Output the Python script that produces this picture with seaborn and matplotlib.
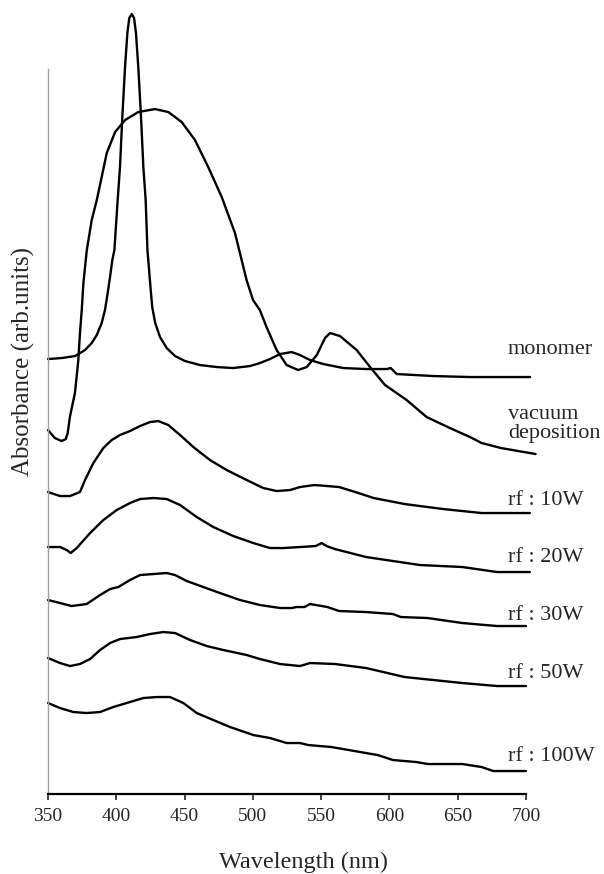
import matplotlib
matplotlib.use("Agg")
import matplotlib.pyplot as plt
import seaborn as sns
import pandas as pd

# UV-Vis absorbance spectra (offset for clarity), wavelength in nm
monomer_wl = [350, 360, 369.8, 377.1, 382, 385.7, 389.3, 391.7, 393.7, 395.4, 397.1, 398.6, 401,
              402.7, 404.4, 406.4, 408.1, 409.5, 411.3, 413, 414.4, 416.1, 418.1, 419.8, 421.5,
              422.8, 424, 425.2, 426.3, 428.5, 432, 436.9, 443, 450.3, 461.3, 473.5, 485.7,
              497.9, 505.2, 512.5, 519.9, 528.4, 534.5, 541.8, 551.6, 566.2, 583.3, 598, 600.9,
              605.3, 632.1, 659, 703]
monomer_abs = [4.35, 4.36, 4.38, 4.44, 4.51, 4.59, 4.71, 4.84, 5.01, 5.17, 5.34, 5.44, 5.94,
               6.27, 6.77, 7.27, 7.61, 7.76, 7.80, 7.76, 7.61, 7.27, 6.77, 6.27, 5.94,
               5.44, 5.24, 5.04, 4.87, 4.71, 4.57, 4.46, 4.38, 4.33, 4.29, 4.27, 4.26,
               4.28, 4.31, 4.35, 4.40, 4.42, 4.39, 4.34, 4.30, 4.26, 4.25, 4.25, 4.26,
               4.20, 4.18, 4.17, 4.17]

vacuum_wl = [350, 355, 359.9, 363, 364.4, 366, 369.7, 372.2, 373.4, 374.7, 375.9, 378.4, 382,
             385.7, 389.3, 393, 399.1, 406.4, 416.1, 428.3, 438.1, 447.9, 457.6, 467.3, 477.2,
             486.9, 495.4, 500.1, 505.1, 510, 517.4, 524.7, 533.2, 539.4, 546.8, 552.8, 556.5,
             563.8, 576, 585.8, 596.8, 612.6, 627.2, 644.3, 659, 667.5, 681.7, 707]
vacuum_abs = [3.64, 3.56, 3.53, 3.55, 3.61, 3.77, 4.01, 4.34, 4.61, 4.84, 5.11, 5.44, 5.74,
              5.94, 6.17, 6.41, 6.62, 6.74, 6.82, 6.85, 6.82, 6.72, 6.54, 6.27, 5.97,
              5.61, 5.14, 4.94, 4.84, 4.67, 4.44, 4.29, 4.24, 4.27, 4.39, 4.56, 4.61,
              4.58, 4.44, 4.27, 4.09, 3.94, 3.77, 3.66, 3.57, 3.51, 3.46, 3.40]

rf10_wl = [350, 358.8, 366.1, 373.4, 377.1, 383.2, 390.5, 396.6, 402.7, 410, 417.4, 424.7, 430.8,
           438.1, 446.7, 456.4, 468.6, 480.8, 495.5, 507.6, 517.4, 527.2, 534.5, 545, 554.6,
           563.1, 575, 588.5, 611.1, 639.3, 667.5, 702.8]
rf10_abs = [3.02, 2.98, 2.98, 3.02, 3.14, 3.31, 3.46, 3.54, 3.59, 3.63, 3.68, 3.72, 3.73,
            3.69, 3.59, 3.47, 3.34, 3.24, 3.14, 3.06, 3.03, 3.04, 3.07, 3.09, 3.08,
            3.07, 3.02, 2.96, 2.90, 2.85, 2.81, 2.81]

rf20_wl = [350, 358.8, 363.7, 366.6, 371, 380.8, 390.5, 400.3, 410, 417.4, 427.1, 436.9, 446.7,
           458.9, 471, 485.7, 500.3, 512.5, 522.3, 534.5, 546, 550.4, 554, 560, 582.9, 622.4,
           653.4, 678.8, 702.8]
rf20_abs = [2.47, 2.47, 2.44, 2.41, 2.46, 2.61, 2.74, 2.84, 2.91, 2.95, 2.96, 2.95, 2.89,
            2.77, 2.67, 2.58, 2.51, 2.46, 2.46, 2.47, 2.48, 2.51, 2.48, 2.45, 2.37, 2.29,
            2.27, 2.22, 2.22]

rf30_wl = [350, 358.8, 367.3, 378.3, 388.1, 395.4, 401.5, 410, 417.4, 427.1, 436.9, 443, 451.6,
           463.7, 475.9, 490.6, 505.2, 519.9, 528.4, 532.1, 537.7, 541.9, 554.6, 563.1, 582.9,
           602.6, 608.3, 628, 653.4, 678.8, 700]
rf30_abs = [1.94, 1.91, 1.88, 1.90, 1.99, 2.05, 2.07, 2.14, 2.19, 2.20, 2.21, 2.19, 2.13,
            2.07, 2.01, 1.94, 1.89, 1.86, 1.86, 1.87, 1.87, 1.90, 1.87, 1.83, 1.82,
            1.80, 1.77, 1.76, 1.71, 1.68, 1.68]

rf50_wl = [350, 358.8, 366.1, 373.4, 380.8, 388.1, 395.4, 402.7, 414.9, 424.7, 434.4, 443, 454,
           466.2, 478.4, 495.5, 505.2, 519.9, 534.5, 541.9, 560.3, 582.9, 611.1, 653.4, 678.8, 700]
rf50_abs = [1.36, 1.31, 1.28, 1.30, 1.35, 1.44, 1.51, 1.55, 1.57, 1.60, 1.62, 1.61, 1.54,
            1.48, 1.44, 1.39, 1.35, 1.30, 1.28, 1.31, 1.30, 1.26, 1.17, 1.11, 1.08, 1.08]

rf100_wl = [350, 358.8, 368.5, 378.3, 388.1, 397.8, 410, 419.8, 429.6, 439.3, 449.1, 458.9, 471,
            483.3, 500.3, 512.5, 524.8, 534.5, 540.5, 557.5, 574.4, 591.3, 602.6, 619.6, 628,
            653.4, 667.5, 676, 700]
rf100_abs = [0.91, 0.86, 0.82, 0.81, 0.82, 0.87, 0.92, 0.96, 0.97, 0.97, 0.91, 0.81, 0.74,
             0.67, 0.59, 0.56, 0.51, 0.51, 0.49, 0.47, 0.43, 0.39, 0.34, 0.32, 0.30,
             0.30, 0.27, 0.23, 0.23]

series_labels = ["monomer", "vacuum\ndeposition", "rf : 10W", "rf : 20W", "rf : 30W", "rf : 50W", "rf : 100W"]
label_levels = [4.45, 3.70, 2.94, 2.37, 1.79, 1.21, 0.38]
x_ticks = [350, 400, 450, 500, 550, 600, 650, 700]

series = [(monomer_wl, monomer_abs), (vacuum_wl, vacuum_abs), (rf10_wl, rf10_abs),
          (rf20_wl, rf20_abs), (rf30_wl, rf30_abs), (rf50_wl, rf50_abs), (rf100_wl, rf100_abs)]

sns.set_style("ticks")
plt.rcParams["font.family"] = ["Liberation Serif", "DejaVu Serif"]

fig = plt.figure(figsize=(6.04, 8.74), dpi=100)
ax = fig.add_axes([0.0795, 0.0915, 0.7914, 0.8295])

for wl, ab in series:
    df = pd.DataFrame({"wl": wl, "abs": ab})
    sns.lineplot(data=df, x="wl", y="abs", ax=ax, color="black", lw=1.7,
                 estimator=None, sort=False, clip_on=False,
                 solid_joinstyle="round", solid_capstyle="round")

for text, level in zip(series_labels, label_levels):
    ax.text(686.8, level, text, ha="left", va="center", fontsize=16,
            linespacing=1.0, clip_on=False)

ax.set_xlim(350, 700)
ax.set_ylim(0, 7.25)
ax.set_xticks(x_ticks)
ax.set_yticks([])
ax.tick_params(axis="x", direction="out", length=4, width=1.2, pad=6, labelsize=14)

for side in ("top", "right"):
    ax.spines[side].set_visible(False)
ax.spines["left"].set_color("#a0a0a0")
ax.spines["left"].set_linewidth(1.0)
ax.spines["bottom"].set_color("black")
ax.spines["bottom"].set_linewidth(1.6)

ax.set_xlabel("Wavelength (nm)", fontsize=17.5)
ax.set_ylabel("Absorbance (arb.units)", fontsize=18)
ax.xaxis.set_label_coords(0.535, -0.094)
ax.yaxis.set_label_coords(-0.052, 0.596)
ax.xaxis.label.set_va("center")
ax.yaxis.label.set_va("center")

fig.savefig("out.png", dpi=100)
